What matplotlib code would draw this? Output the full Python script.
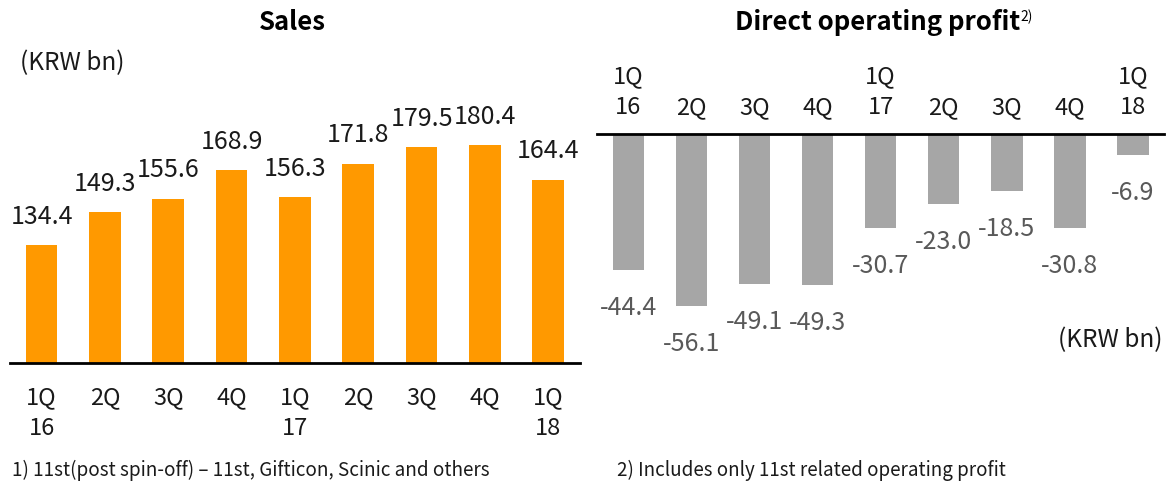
import matplotlib
matplotlib.use("Agg")
import matplotlib.pyplot as plt

plt.rcParams["font.family"] = ["Noto Sans CJK KR", "DejaVu Sans"]

C_SALES = "#FF9900"
C_PROFIT = "#A6A6A6"

quarters = ["1Q\n16", "2Q", "3Q", "4Q", "1Q\n17", "2Q", "3Q", "4Q", "1Q\n18"]
sales = [134.4, 149.3, 155.6, 168.9, 156.3, 171.8, 179.5, 180.4, 164.4]
profit = [-44.4, -56.1, -49.1, -49.3, -30.7, -23.0, -18.5, -30.8, -6.9]

fig = plt.figure(figsize=(11.75, 4.86), dpi=100)

# Sales panel
ax1 = fig.add_axes([0.0085, 0.253, 0.485, 0.541])
x = range(len(sales))
ax1.bar(x, sales, 0.5, color=C_SALES)
ax1.set_xlim(-0.5, 8.5)
ax1.set_ylim(80, 201)
for i, v in zip(x, sales):
    ax1.annotate(f"{v:.1f}", (i, v), xytext=(0, 11), textcoords="offset points",
                 ha="center", va="bottom", fontsize=18, color="#1a1a1a")
for i, q in zip(x, quarters):
    ax1.annotate(q, (i, 80), xytext=(0, -17), textcoords="offset points",
                 ha="center", va="top", fontsize=17, color="#1a1a1a",
                 linespacing=1.4, annotation_clip=False)
for s in ["top", "left", "right"]:
    ax1.spines[s].set_visible(False)
ax1.spines["bottom"].set_linewidth(2)
ax1.set_xticks([])
ax1.set_yticks([])
ax1.patch.set_visible(False)

# Direct operating profit panel
ax2 = fig.add_axes([0.508, 0.259, 0.483, 0.465])
ax2.bar(x, profit, 0.5, color=C_PROFIT)
ax2.set_xlim(-0.5, 8.5)
ax2.set_ylim(-73.9, 0)
for i, v in zip(x, profit):
    ax2.annotate(f"{v:.1f}", (i, v), xytext=(0, -18), textcoords="offset points",
                 ha="center", va="top", fontsize=18, color="#595959",
                 annotation_clip=False)
for i, q in zip(x, quarters):
    ax2.annotate(q, (i, 0), xytext=(0, 11), textcoords="offset points",
                 ha="center", va="bottom", fontsize=17, color="#1a1a1a",
                 linespacing=1.4, annotation_clip=False)
for s in ["bottom", "left", "right"]:
    ax2.spines[s].set_visible(False)
ax2.spines["top"].set_linewidth(2)
ax2.set_xticks([])
ax2.set_yticks([])
ax2.patch.set_visible(False)

# titles and notes
fig.text(0.2485, 0.953, "Sales", ha="center", va="center",
         fontsize=18.5, fontweight="bold")
t2 = fig.text(0.747, 0.953, "Direct operating profit", ha="center", va="center",
              fontsize=18.5, fontweight="bold")
ax2.annotate("2)", xy=(1.0, 1.0), xycoords=t2, xytext=(0, 0),
             textcoords="offset points", ha="left", va="top", fontsize=10)
fig.text(0.017, 0.87, "(KRW bn)", ha="left", va="center", fontsize=17.5,
         color="#1a1a1a")
fig.text(0.989, 0.30, "(KRW bn)", ha="right", va="center", fontsize=17.5,
         color="#1a1a1a")
fig.text(0.01, 0.033, "1) 11st(post spin-off) \u2013 11st, Gifticon, Scinic and others",
         ha="left", va="center", fontsize=13.6, color="#1a1a1a")
fig.text(0.525, 0.033, "2) Includes only 11st related operating profit",
         ha="left", va="center", fontsize=13.5, color="#1a1a1a")

fig.savefig("out.png", dpi=100)
